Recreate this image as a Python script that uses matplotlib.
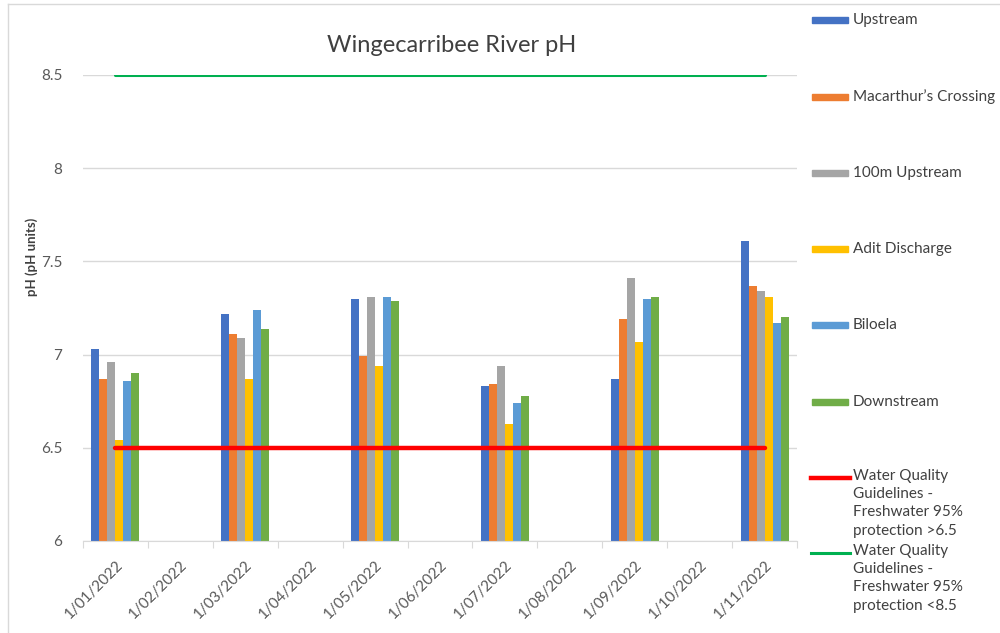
import matplotlib.pyplot as plt
import numpy as np
from matplotlib.lines import Line2D
from matplotlib.patches import Rectangle

plt.rcParams['font.family'] = ['Lato', 'DejaVu Sans']

# month axis and sample data
months = ['1/01/2022', '1/02/2022', '1/03/2022', '1/04/2022', '1/05/2022', '1/06/2022',
          '1/07/2022', '1/08/2022', '1/09/2022', '1/10/2022', '1/11/2022']
sample_months = ['1/01/2022', '1/03/2022', '1/05/2022', '1/07/2022', '1/09/2022', '1/11/2022']

upstream = [7.03, 7.22, 7.30, 6.83, 6.87, 7.61]
macarthurs = [6.87, 7.11, 6.99, 6.84, 7.19, 7.37]
upstream_100m = [6.96, 7.09, 7.31, 6.94, 7.41, 7.34]
adit = [6.54, 6.87, 6.94, 6.63, 7.07, 7.31]
biloela = [6.86, 7.24, 7.31, 6.74, 7.30, 7.17]
downstream = [6.90, 7.14, 7.29, 6.78, 7.31, 7.20]

guide_low = [6.5] * len(months)
guide_high = [8.5] * len(months)

series = [('Upstream', upstream, '#4472C4'),
          ("Macarthur\u2019s Crossing", macarthurs, '#ED7D31'),
          ('100m Upstream', upstream_100m, '#A5A5A5'),
          ('Adit Discharge', adit, '#FFC000'),
          ('Biloela', biloela, '#5B9BD5'),
          ('Downstream', downstream, '#70AD47')]
low_label = 'Water Quality\nGuidelines -\nFreshwater 95%\nprotection >6.5'
high_label = 'Water Quality\nGuidelines -\nFreshwater 95%\nprotection <8.5'

W, H = 1000, 633
fig = plt.figure(figsize=(10, 6.33), dpi=100)
ax = fig.add_axes([83 / W, 1 - 541 / H, (797 - 83) / W, (541 - 75) / H])

x_all = np.arange(len(months))
x_s = np.array([months.index(m) for m in sample_months])
bw = 0.74 / 6

for i, (name, vals, col) in enumerate(series):
    ax.bar(x_s + (i - 2.5) * bw, vals, width=bw, color=col, zorder=2)

ax.plot(x_all, guide_low, color='#FF0000', lw=3.2, zorder=3, solid_capstyle='round')
ax.plot(x_all, guide_high, color='#00B050', lw=2.2, zorder=3, solid_capstyle='round')

ax.set_xlim(-0.5, len(months) - 0.5)
ax.set_ylim(6, 8.5)
ax.set_yticks([6, 6.5, 7, 7.5, 8, 8.5])
ax.set_yticklabels(['6', '6.5', '7', '7.5', '8', '8.5'])
ax.yaxis.grid(True, color='#D9D9D9', lw=1)
ax.set_axisbelow(True)
ax.set_xticks(np.arange(len(months) + 1) - 0.5, minor=False)
ax.set_xticklabels([])
ax.set_xticks(x_all, minor=True)
ax.set_xticklabels(months, minor=True, rotation=45, ha='right', va='top',
                   rotation_mode='anchor', fontsize=11, color='#595959')
ax.tick_params(axis='x', which='major', length=5, color='#D9D9D9', direction='out')
ax.tick_params(axis='x', which='minor', length=0, pad=12)
ax.tick_params(axis='y', length=0, labelsize=11, labelcolor='#595959', pad=15)
for s in ['top', 'right', 'left']:
    ax.spines[s].set_visible(False)
ax.spines['bottom'].set_color('#D9D9D9')

fig.text(32 / W, 1 - 257 / H, 'pH (pH units)', rotation=90, ha='center', va='center',
         fontsize=9.5, fontweight='bold', color='#404040')

fig.text(452 / W, 1 - 45 / H, 'Wingecarribee River pH', ha='center', va='center',
         fontsize=17, color='#404040')

# legend drawn by hand to match the wide spacing
ys = [20, 97, 173, 249, 325, 402]
for (name, vals, col), y in zip(series, ys):
    fig.add_artist(Rectangle((812 / W, 1 - (y + 3) / H), 36 / W, 6 / H,
                             transform=fig.transFigure, color=col))
    fig.text(853 / W, 1 - y / H, name, ha='left', va='center', fontsize=11, color='#404040')
for y, col, lab, lw in [(478, '#FF0000', low_label, 3.2), (553, '#00B050', high_label, 2.2)]:
    fig.add_artist(Line2D([811 / W, 850 / W], [1 - y / H, 1 - y / H],
                          transform=fig.transFigure, color=col, lw=lw))
    fig.text(853 / W, 1 - (y - 9) / H, lab, ha='left', va='top', fontsize=11,
             color='#404040', linespacing=1.38)

# chart frame
fig.add_artist(Line2D([8 / W, 1], [1 - 4 / H, 1 - 4 / H], transform=fig.transFigure,
                      color='#D9D9D9', lw=1))
fig.add_artist(Line2D([8 / W, 8 / W], [0, 1 - 4 / H], transform=fig.transFigure,
                      color='#D9D9D9', lw=1))

fig.savefig('out.png', dpi=100)
